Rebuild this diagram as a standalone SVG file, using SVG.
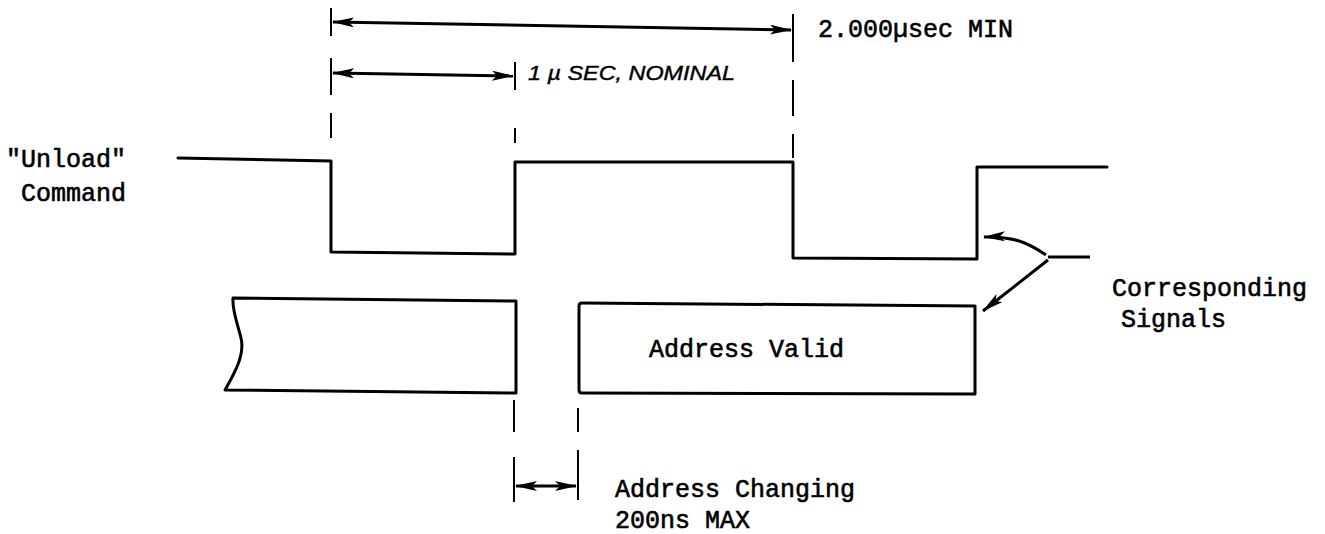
<svg xmlns="http://www.w3.org/2000/svg" width="1325" height="534" viewBox="0 0 1325 534">
<defs>
<style>
.sig{fill:none;stroke:#000;stroke-width:3;stroke-linejoin:round;stroke-linecap:round}
.dash{fill:none;stroke:#000;stroke-width:2}
.dim{fill:none;stroke:#000;stroke-width:3}
.t{font-family:"Liberation Mono","Courier New",monospace;font-size:25px;fill:#000;stroke:#000;stroke-width:0.6}
.h{font-family:"Liberation Sans",Arial,sans-serif;font-style:italic;font-size:20px;fill:#000;stroke:#000;stroke-width:0.4}
</style>
<marker id="ah" viewBox="0 0 22 10" refX="21" refY="5" markerWidth="22" markerHeight="10" markerUnits="userSpaceOnUse" orient="auto-start-reverse">
<path d="M0,0 L22,5 L0,10 L5,5 Z" fill="#000"/>
</marker>
</defs>
<rect width="1325" height="534" fill="#fff"/>
<g id="connectors">
<g id="guides">
<path class="dash" d="M331,8V36 M331,58V95 M331,113V138"/>
<path class="dash" d="M793,14V62 M793,80V116 M793,134V158"/>
<path class="dash" d="M515,62V90 M515,128V143"/>
<path class="dash" d="M514,400V432 M514,457V502"/>
<path class="dash" d="M578,408V432 M578,450V500"/>
</g>
<line id="dim-2us" class="dim" x1="333" y1="22" x2="791" y2="30" marker-start="url(#ah)" marker-end="url(#ah)"/>
<line id="dim-1us" class="dim" x1="333" y1="73" x2="513" y2="76" marker-start="url(#ah)" marker-end="url(#ah)"/>
<line id="dim-200ns" class="dim" x1="516" y1="486" x2="576" y2="486" marker-start="url(#ah)" marker-end="url(#ah)"/>
<g id="callout">
<path class="dim" d="M1090,257 L1048,257"/>
<path class="dim" d="M1046,255 C1030,244 1015,236 984,237" marker-end="url(#ah)"/>
<path class="dim" d="M1048,260 L983,311" marker-end="url(#ah)"/>
</g>
</g>
<g id="unload-signal">
<polyline class="sig" points="178,158 331,161 331,252 515,254 515,162 793,162 793,258 977,259 977,167 1107,167"/>
<text class="t" x="6" y="167">"Unload"</text>
<text class="t" x="21" y="201">Command</text>
</g>
<g id="address-bus">
<path class="sig" d="M233,298 L516,301 L516,393 L225,390 C235,372 245,355 241,338 C237,322 232,310 233,298 Z"/>
<path class="sig" d="M975,306 L582,303 Q579,303 579,306 L579,390 Q579,393 582,393 L975,394 Z"/>
<text class="t" x="649" y="357">Address Valid</text>
</g>
<g id="label-2us">
<text class="t" x="818" y="37">2.000µsec MIN</text>
</g>
<g id="label-1us">
<text class="h" x="528" y="80" textLength="207" lengthAdjust="spacingAndGlyphs">1 µ SEC, NOMINAL</text>
</g>
<g id="label-corresponding">
<text class="t" x="1112" y="296">Corresponding</text>
<text class="t" x="1121" y="327">Signals</text>
</g>
<g id="label-changing">
<text class="t" x="615" y="497">Address Changing</text>
<text class="t" x="615" y="528">200ns MAX</text>
</g>
</svg>
